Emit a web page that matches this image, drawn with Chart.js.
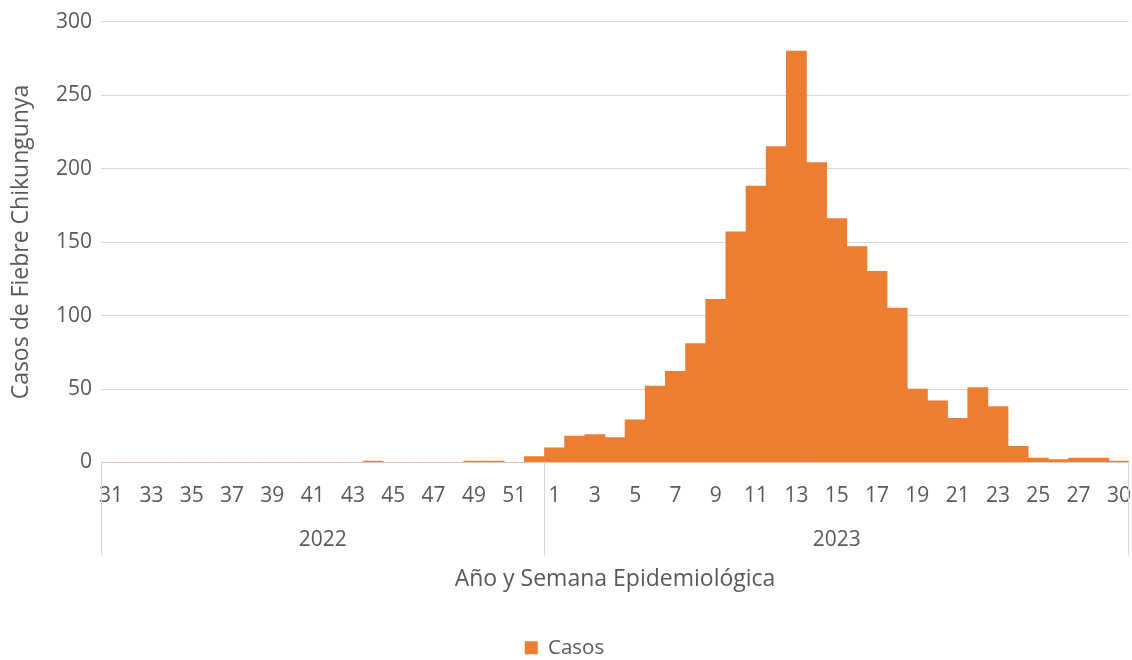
<!DOCTYPE html>
<html>
<head>
<meta charset="utf-8">
<script src="https://cdn.jsdelivr.net/npm/chart.js@4"></script>
<style>
  html, body { margin: 0; padding: 0; background: #fff; }
  #wrap { width: 1132px; height: 660px; }
</style>
</head>
<body>
<div id="wrap"><canvas id="barChart"></canvas></div>
<script>
// Weeks shown on the axis (2022: 31-52, 2023: 1-28 and 30)
const weeks2022 = [31, 32, 33, 34, 35, 36, 37, 38, 39, 40, 41, 42, 43, 44, 45, 46, 47, 48, 49, 50, 51, 52];
const weeks2023 = [1, 2, 3, 4, 5, 6, 7, 8, 9, 10, 11, 12, 13, 14, 15, 16, 17, 18, 19, 20, 21, 22, 23, 24, 25, 26, 27, 28, 30];
const cases2022 = [0, 0, 0, 0, 0, 0, 0, 0, 0, 0, 0, 0, 0, 1, 0, 0, 0, 0, 1, 1, 0, 4];
const cases2023 = [10, 18, 19, 17, 29, 52, 62, 81, 111, 157, 188, 215, 280, 204, 166, 147, 130, 105, 50, 42, 30, 51, 38, 11, 3, 2, 3, 3, 1];
const years = ['2022', '2023'];

const weekLabels = weeks2022.concat(weeks2023).map(String);
const casos = cases2022.concat(cases2023);
const groupSizes = [weeks2022.length, weeks2023.length];

const textColor = '#595959';
const gridColor = '#d9d9d9';
const fontFamily = '"Open Sans", sans-serif';

// Draws the year row under the week labels with the separator lines
const yearRow = {
    id: 'yearRow',
    afterDraw(chart) {
        const x = chart.scales.x;
        const c = chart.ctx;
        const half = (x.getPixelForValue(1) - x.getPixelForValue(0)) / 2;
        const top = chart.chartArea.bottom;
        c.save();
        c.strokeStyle = gridColor;
        c.lineWidth = 1;
        c.fillStyle = textColor;
        c.font = '21px ' + fontFamily;
        c.textAlign = 'center';
        c.textBaseline = 'middle';
        let start = 0;
        groupSizes.forEach(function (n, i) {
            const left = x.getPixelForValue(start) - half;
            const right = x.getPixelForValue(start + n - 1) + half;
            c.beginPath();
            c.moveTo(Math.round(left) + 0.5, top);
            c.lineTo(Math.round(left) + 0.5, top + 93);
            c.stroke();
            if (i === groupSizes.length - 1) {
                c.beginPath();
                c.moveTo(Math.round(right) - 0.5, top);
                c.lineTo(Math.round(right) - 0.5, top + 93);
                c.stroke();
            }
            c.fillText(years[i], (left + right) / 2, top + 78);
            start += n;
        });
        c.restore();
    }
};

new Chart(document.getElementById('barChart').getContext('2d'), {
    type: 'bar',
    data: {
        labels: weekLabels,
        datasets: [{
            label: 'Casos',
            data: casos,
            backgroundColor: '#ED7D31',
            borderWidth: 0,
            barPercentage: 1,
            categoryPercentage: 1
        }]
    },
    options: {
        responsive: true,
        maintainAspectRatio: false,
        animation: false,
        layout: { padding: { top: 18, right: 3, left: 0, bottom: -8 } },
        plugins: {
            legend: {
                position: 'bottom',
                labels: {
                    color: textColor,
                    font: { family: fontFamily, size: 20.5 },
                    boxWidth: 13,
                    boxHeight: 13,
                    padding: 4
                }
            },
            tooltip: { enabled: false }
        },
        scales: {
            x: {
                grid: { display: false, drawTicks: false },
                border: { display: false },
                afterFit: function (scale) {
                    scale.height = 171;
                    scale.paddingLeft = 0;
                    scale.paddingRight = 0;
                },
                ticks: {
                    autoSkip: false,
                    maxRotation: 0,
                    padding: 21,
                    color: textColor,
                    font: { family: fontFamily, size: 21 },
                    callback: function (value, index) {
                        return index % 2 === 0 ? this.getLabelForValue(value) : '';
                    }
                },
                title: {
                    display: true,
                    text: 'Año y Semana Epidemiológica',
                    color: textColor,
                    font: { family: fontFamily, size: 23 },
                    padding: { top: 0, bottom: 40 }
                }
            },
            y: {
                min: 0,
                max: 300,
                afterFit: function (scale) { scale.width = 101; },
                grid: { color: gridColor, drawTicks: false },
                border: { display: false },
                ticks: {
                    stepSize: 50,
                    padding: 9,
                    color: textColor,
                    font: { family: fontFamily, size: 21 }
                },
                title: {
                    display: true,
                    text: 'Casos de Fiebre Chikungunya',
                    color: textColor,
                    font: { family: fontFamily, size: 23 },
                    padding: { top: 8, bottom: 0 }
                }
            }
        }
    },
    plugins: [yearRow]
});
</script>
</body>
</html>
